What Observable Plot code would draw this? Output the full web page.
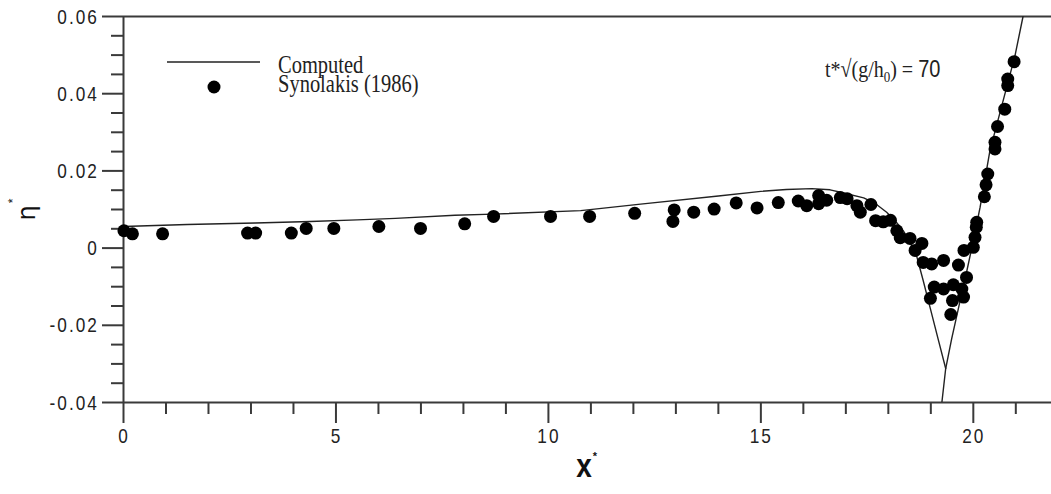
<!DOCTYPE html>
<html><head><meta charset="utf-8">
<script src="https://cdn.jsdelivr.net/npm/d3@7"></script>
<script src="https://cdn.jsdelivr.net/npm/@observablehq/plot@0.6"></script>
<style>
html,body{margin:0;padding:0;background:#fff;}
#chart svg{display:block;}
</style></head><body><div id="chart"></div>
<script>
// Synolakis (1986) measured points
const obsX = [0.01,0.21,0.92,2.92,3.11,3.95,4.30,4.95,6.01,6.99,8.03,8.71,10.05,10.97,12.03,12.96,12.93,13.42,13.90,14.42,14.91,15.41,15.88,16.08,16.36,16.36,16.55,16.87,17.03,17.26,17.34,17.59,17.70,17.88,18.05,18.20,18.28,18.51,18.79,18.63,18.82,19.02,19.30,19.65,19.78,20.00,20.04,20.07,20.08,19.84,19.08,18.99,19.30,19.53,19.73,19.77,19.51,19.47,20.26,20.30,20.34,20.51,20.51,20.57,20.74,20.81,20.81,20.96];
const obsY = [0.0045,0.0037,0.0037,0.0039,0.0039,0.0039,0.0051,0.0051,0.0056,0.0051,0.0063,0.0082,0.0082,0.0082,0.0090,0.0099,0.0069,0.0093,0.0101,0.0117,0.0104,0.0118,0.0122,0.0110,0.0136,0.0115,0.0124,0.0131,0.0128,0.0110,0.0093,0.0113,0.0071,0.0068,0.0072,0.0045,0.0027,0.0025,0.0012,-0.0006,-0.0037,-0.0041,-0.0032,-0.0044,-0.0006,0.0002,0.0028,0.0054,0.0067,-0.0076,-0.0101,-0.0130,-0.0106,-0.0095,-0.0106,-0.0127,-0.0136,-0.0172,0.0133,0.0164,0.0192,0.0257,0.0274,0.0315,0.0360,0.0421,0.0438,0.0483];
// Computed free surface
const compX = [0,1.5,3.1,4.4,5.5,6.4,7.8,8.7,10.76,12.17,14,15,15.6,16.2,16.63,16.9,17.42,17.7,17.96,18.15,18.35,18.5,18.67,18.82,18.98,19.18,19.35];
const compY = [0.0056,0.0061,0.0065,0.0069,0.0073,0.0077,0.0085,0.0088,0.0097,0.0114,0.0135,0.0147,0.0152,0.0154,0.0151,0.0144,0.0130,0.0115,0.0093,0.0072,0.0045,0.0018,-0.0022,-0.0084,-0.0153,-0.0239,-0.0312];
// Computed run-up branch
const runX = [19.26,19.35,19.49,19.69,19.85,20.0,20.16,20.39,20.98,21.17];
const runY = [-0.04,-0.0312,-0.0235,-0.0136,-0.0058,0.0019,0.0106,0.0252,0.0498,0.06];
// ticks
const yMajor = [-0.04,-0.02,0,0.02,0.04,0.06];
const yTickLabels = ["-0.04","-0.02","0","0.02","0.04","0.06"];
const yMinor = [-0.035,-0.03,-0.025,-0.015,-0.01,-0.005,0.005,0.01,0.015,0.025,0.03,0.035,0.045,0.05,0.055];
const xMajor = [0,5,10,15,20];
const xTickLabels = ["0","5","10","15","20"];
const xMinor = [1,2,3,4,6,7,8,9,11,12,13,14,16,17,18,19,21];

const obs = obsX.map((x,i)=>({x, y: obsY[i]}));
const lines = compX.map((x,i)=>({x, y: compY[i], seg:"surface"}))
  .concat(runX.map((x,i)=>({x, y: runY[i], seg:"runup"})));

const tickFont = "'Liberation Sans', Arial, sans-serif";
const axisColor = "#3a3a3a";

const plot = Plot.plot({
  width: 1051, height: 494,
  marginLeft: 123, marginRight: 0, marginTop: 16, marginBottom: 92,
  style: {fontFamily: tickFont, fontSize: "21px", background: "#fff", color: "#222"},
  x: {domain: [0, 21.84], label: null},
  y: {domain: [-0.04, 0.06], label: null},
  marks: [
    Plot.ruleY([0.06], {stroke: axisColor, strokeWidth: 2}),
    Plot.ruleY([-0.04], {stroke: axisColor, strokeWidth: 2}),
    Plot.ruleX([0], {stroke: axisColor, strokeWidth: 2}),
    Plot.axisY(yMinor, {tickSize: 12, strokeWidth: 2, stroke: axisColor, tickFormat: () => "", label: null}),
    Plot.axisY(yMajor, {tickSize: 21, strokeWidth: 2, stroke: axisColor, tickFormat: () => "", label: null}),
    Plot.axisX(xMinor, {tickSize: 12, strokeWidth: 2, stroke: axisColor, tickFormat: () => "", label: null}),
    Plot.axisX(xMajor, {tickSize: 21, strokeWidth: 2, stroke: axisColor, tickFormat: () => "", label: null}),
    Plot.line(lines, {x: "x", y: "y", z: "seg", stroke: "#222", strokeWidth: 1.4, clip: true}),
    Plot.dot(obs, {x: "x", y: "y", r: 6.5, fill: "#000", stroke: null})
  ]
});
document.getElementById("chart").appendChild(plot);

const svg = d3.select(plot);
const sx = plot.scale("x"), sy = plot.scale("y");
// condensed tick labels, positioned through Plot's scales
const tl = svg.append("g").attr("font-family", tickFont).attr("font-size", 21).attr("fill", "#222").attr("letter-spacing", "2.5px");
yMajor.forEach((d, i) => {
  tl.append("text").attr("text-anchor", "end")
    .attr("transform", `translate(${sx.apply(0) - 24},${sy.apply(d) + 7.5}) scale(0.82,1)`)
    .text(yTickLabels[i]);
});
xMajor.forEach((d, i) => {
  tl.append("text").attr("text-anchor", "middle")
    .attr("transform", `translate(${sx.apply(d) + 1},${sy.apply(-0.04) + 41}) scale(0.82,1)`)
    .text(xTickLabels[i]);
});

const serif = "'Liberation Serif', 'DejaVu Serif', serif";
// legend
svg.append("line").attr("x1",167).attr("x2",260).attr("y1",62).attr("y2",62).attr("stroke","#222").attr("stroke-width",1.4);
svg.append("circle").attr("cx",214).attr("cy",87).attr("r",6.5).attr("fill","#000");
svg.append("text").attr("text-anchor","start").attr("transform","translate(278,72.5) scale(1,1.25)").attr("font-family",serif).attr("font-size",20.5).attr("fill","#222").text("Computed");
svg.append("text").attr("text-anchor","start").attr("transform","translate(278,91.5) scale(1,1.25)").attr("font-family",serif).attr("font-size",20.5).attr("fill","#222").text("Synolakis (1986)");
// annotation
const ann = svg.append("text").attr("text-anchor","start").attr("transform","translate(825,77) scale(1,1.2)").attr("font-family",serif).attr("font-size",20).attr("fill","#222");
ann.append("tspan").text("t*√(g/h");
ann.append("tspan").attr("font-size",13).attr("dy",4).text("0");
ann.append("tspan").attr("dy",-4).text(") = ");
ann.append("tspan").attr("font-family",tickFont).text("70");
// axis titles
svg.append("text").attr("transform","translate(584,477) scale(1,1.2)").attr("text-anchor","middle")
  .attr("font-family",tickFont).attr("font-weight","bold").attr("font-size",28).attr("fill","#111").text("x");
svg.append("text").attr("transform","translate(595,460)").attr("text-anchor","middle")
  .attr("font-family",tickFont).attr("font-weight","bold").attr("font-size",11).attr("fill","#111").text("*");
svg.append("text").attr("transform","translate(35,213) rotate(-90)").attr("text-anchor","middle")
  .attr("font-family","'DejaVu Sans', sans-serif").attr("font-size",24).attr("fill","#111").text("η");
svg.append("text").attr("transform","translate(17,201) rotate(-90)").attr("text-anchor","middle")
  .attr("font-family",tickFont).attr("font-size",12).attr("fill","#111").text("*");
</script></body></html>
